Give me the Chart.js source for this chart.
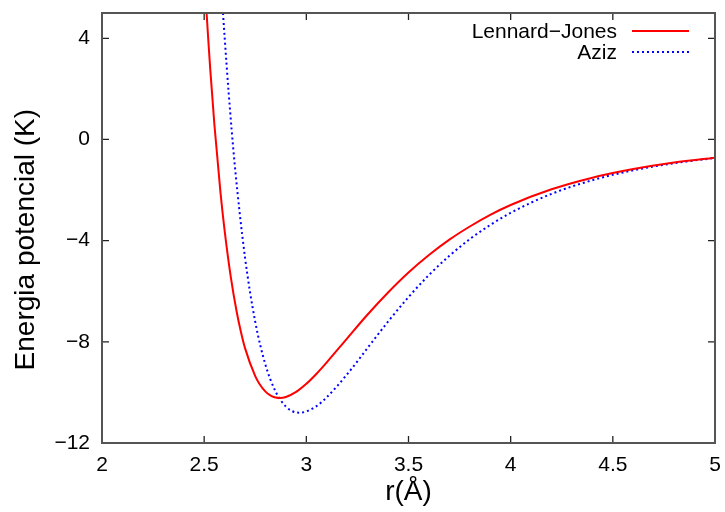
<!DOCTYPE html>
<html>
<head>
<meta charset="utf-8">
<script src="https://cdn.jsdelivr.net/npm/chart.js@4.4.1/dist/chart.umd.min.js"></script>
<style>
  html, body { margin: 0; padding: 0; background: #fff; }
  #wrap { width: 725px; height: 512px; }
</style>
</head>
<body>
<div id="wrap"><canvas id="c" width="725" height="512"></canvas></div>
<script>
// Series values
const rLJ = [2.50, 2.51, 2.52, 2.53, 2.55, 2.58, 2.60, 2.63, 2.66, 2.68, 2.70, 2.75, 2.77, 2.80, 2.83, 2.85, 2.87, 2.90, 2.95, 3.00, 3.05, 3.10, 3.20, 3.30, 3.40, 3.50, 3.60, 3.70, 3.80, 3.90, 4.00, 4.20, 4.40, 4.60, 4.80, 5.00];
const vLJ = [6.64, 5.25, 3.95, 2.75, 0.59, -2.11, -3.59, -5.42, -6.85, -7.61, -8.25, -9.36, -9.66, -9.97, -10.15, -10.20, -10.22, -10.18, -9.98, -9.66, -9.26, -8.81, -7.86, -6.92, -6.05, -5.26, -4.57, -3.96, -3.44, -2.98, -2.59, -1.97, -1.51, -1.17, -0.91, -0.72];

const rAziz = [2.58, 2.59, 2.60, 2.62, 2.65, 2.70, 2.75, 2.80, 2.85, 2.90, 2.95, 2.97, 3.00, 3.05, 3.10, 3.20, 3.30, 3.40, 3.50, 3.60, 3.70, 3.80, 3.90, 4.00, 4.20, 4.40, 4.60, 4.80, 5.00];
const vAziz = [6.59, 5.28, 4.06, 1.83, -1.03, -4.67, -7.21, -8.91, -9.97, -10.56, -10.79, -10.80, -10.75, -10.54, -10.19, -9.28, -8.24, -7.20, -6.23, -5.36, -4.60, -3.94, -3.38, -2.90, -2.15, -1.61, -1.22, -0.94, -0.73];

const seriesNames = ['Lennard\u2212Jones', 'Aziz'];
const xTicks = [2, 2.5, 3, 3.5, 4, 4.5, 5];
const yTicks = [-12, -8, -4, 0, 4];
const xTitle = 'r(\u00C5)';
const yTitle = 'Energia potencial (K)   ';

const pts = (xs, ys) => xs.map((v, i) => ({x: v, y: ys[i]}));

Chart.defaults.font.family = "'Liberation Sans', Arial, sans-serif";
Chart.defaults.color = '#000';

const frame = {
  id: 'frame',
  afterDatasetsDraw(chart) {
    const {ctx, chartArea: a, scales: {x, y}} = chart;
    ctx.save();
    // inward ticks on all four sides
    ctx.strokeStyle = '#222';
    ctx.lineWidth = 1.3;
    const L = 7;
    ctx.beginPath();
    x.ticks.forEach(t => {
      const px = x.getPixelForValue(t.value);
      ctx.moveTo(px, a.bottom); ctx.lineTo(px, a.bottom - L);
      ctx.moveTo(px, a.top); ctx.lineTo(px, a.top + L);
    });
    y.ticks.forEach(t => {
      const py = y.getPixelForValue(t.value);
      ctx.moveTo(a.left, py); ctx.lineTo(a.left + L, py);
      ctx.moveTo(a.right, py); ctx.lineTo(a.right - L, py);
    });
    ctx.stroke();
    // border box
    ctx.strokeStyle = '#555';
    ctx.lineWidth = 2;
    ctx.strokeRect(a.left, a.top, a.right - a.left, a.bottom - a.top);
    // legend (gnuplot style: text right-aligned, sample on the right)
    const textRight = a.right - 98;
    const sx0 = a.right - 83, sx1 = a.right - 26;
    ctx.font = "21px 'Liberation Sans', Arial, sans-serif";
    ctx.textAlign = 'right';
    ctx.textBaseline = 'middle';
    chart.data.datasets.forEach((ds, i) => {
      const cy = a.top + 18 + i * 21;
      ctx.fillStyle = '#000';
      ctx.fillText(ds.label, textRight, cy + 1);
      ctx.beginPath();
      ctx.strokeStyle = ds.borderColor;
      ctx.lineWidth = ds.borderWidth;
      ctx.setLineDash(ds.borderDash || []);
      ctx.moveTo(sx0, cy); ctx.lineTo(sx1, cy);
      ctx.stroke();
      ctx.setLineDash([]);
    });
    ctx.restore();
  }
};

new Chart(document.getElementById('c'), {
  type: 'line',
  data: {
    datasets: [
      {
        label: seriesNames[0],
        data: pts(rLJ, vLJ),
        borderColor: '#ff0000',
        borderWidth: 2,
        pointRadius: 0,
        cubicInterpolationMode: 'monotone',
        clip: 0
      },
      {
        label: seriesNames[1],
        data: pts(rAziz, vAziz),
        borderColor: '#0000ff',
        borderWidth: 2,
        borderDash: [2, 3],
        pointRadius: 0,
        cubicInterpolationMode: 'monotone',
        clip: 0
      }
    ]
  },
  options: {
    responsive: false,
    animation: false,
    devicePixelRatio: 1,
    layout: { padding: { top: 13, right: 10, left: 0, bottom: 0 } },
    plugins: { legend: { display: false }, tooltip: { enabled: false } },
    scales: {
      x: {
        type: 'linear',
        min: 2, max: 5,
        afterBuildTicks: s => { s.ticks = xTicks.map(v => ({value: v})); },
        afterFit: s => { s.height = 69; s.paddingLeft = 0; s.paddingRight = 0; },
        grid: { display: false, drawTicks: false },
        border: { display: false },
        ticks: {
          padding: 10,
          font: { size: 21 },
          color: '#000',
          callback: v => String(v)
        },
        title: {
          display: true,
          text: xTitle,
          font: { size: 28 },
          color: '#000',
          padding: { top: 0, bottom: 3 }
        }
      },
      y: {
        type: 'linear',
        min: -12, max: 5,
        afterBuildTicks: s => { s.ticks = yTicks.map(v => ({value: v})); },
        afterFit: s => { s.width = 102; s.paddingTop = 0; s.paddingBottom = 0; },
        grid: { display: false, drawTicks: false },
        border: { display: false },
        ticks: {
          padding: 12,
          font: { size: 21 },
          color: '#000',
          callback: v => String(v).replace('-', '\u2212')
        },
        title: {
          display: true,
          text: yTitle,
          font: { size: 28 },
          color: '#000',
          padding: { top: 9, bottom: 0 }
        }
      }
    }
  },
  plugins: [frame]
});
</script>
</body>
</html>
